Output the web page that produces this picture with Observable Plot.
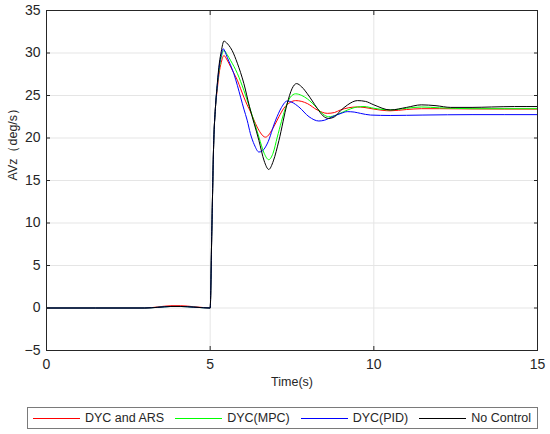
<!DOCTYPE html>
<html>
<head>
<meta charset="utf-8">
<script src="https://cdn.jsdelivr.net/npm/d3@7"></script>
<script src="https://cdn.jsdelivr.net/npm/@observablehq/plot@0.6"></script>
<style>
  body { margin: 0; background: #fff; font-family: "Liberation Sans", Arial, sans-serif; }
  #legend { position: relative; margin-left: 27px; margin-top: 7px; width: 511px; height: 22px; box-sizing: border-box;
    border: 1px solid #7a7a7a; display: flex; align-items: center; padding-left: 5px; font-size: 12.5px; color: #262626; }
  .sw { width: 47px; height: 0; border-top: 1px solid; margin-right: 5px; }
  .lbl { margin-right: 11px; white-space: nowrap; }
</style>
</head>
<body>
<div id="chart"></div>
<div id="legend"></div>
<script>
const seriesNames = ["DYC and ARS", "DYC(MPC)", "DYC(PID)", "No Control"];
const seriesColors = ["#ff0000", "#00ff00", "#0000ff", "#000000"];
const xTicks = [0, 5, 10, 15];
const yTicks = [-5, 0, 5, 10, 15, 20, 25, 30, 35];

// pre-step portion (small bump near t = 4, then the step at t = 5)
const tPre = [0, 3.0, 3.4, 3.8, 4.1, 4.5, 4.8, 5.0, 5.05, 5.11, 5.16];
const vPreRed = [0, 0, 0.12, 0.27, 0.27, 0.15, 0.05, 0, 9, 19.7, 23.5];
const vPre = [0, 0, 0.08, 0.18, 0.18, 0.1, 0.03, 0, 9, 19.7, 23.5];

const tRed = [5.22, 5.27, 5.34, 5.42, 5.5, 5.57, 5.7, 5.83, 5.93, 6.03, 6.13, 6.23, 6.35, 6.49, 6.69, 6.94, 7.1, 7.25, 7.45, 7.61, 7.8, 7.97, 8.27, 8.58, 8.8, 8.98, 9.49, 9.7, 10.0, 10.5, 11.0, 11.45, 12.0, 13.0, 15.0];
const vRed = [25.8, 27.5, 28.9, 29.7, 29.3, 28.8, 27.8, 26.8, 25.8, 24.8, 23.9, 23.1, 22.0, 20.9, 20.1, 21.3, 22.5, 23.5, 24.2, 24.4, 24.3, 24.05, 23.3, 22.9, 23.0, 23.3, 23.65, 23.6, 23.4, 23.2, 23.35, 23.45, 23.45, 23.42, 23.4];

const tGreen = [5.22, 5.28, 5.34, 5.42, 5.52, 5.62, 5.83, 6.03, 6.23, 6.49, 6.65, 6.79, 6.92, 7.05, 7.3, 7.45, 7.61, 7.8, 7.97, 8.27, 8.45, 8.62, 8.85, 9.08, 9.5, 9.7, 10.0, 10.5, 11.0, 11.45, 12.0, 13.0, 15.0];
const vGreen = [26.2, 28.2, 29.5, 30.3, 29.8, 29.15, 27.6, 25.6, 23.3, 20.1, 18.2, 17.45, 18.2, 20.1, 23.5, 24.8, 25.2, 25.0, 24.6, 23.5, 22.8, 22.5, 22.7, 23.1, 23.65, 23.7, 23.5, 23.3, 23.5, 23.65, 23.55, 23.45, 23.45];

const tBlue = [5.22, 5.28, 5.34, 5.40, 5.46, 5.52, 5.62, 5.72, 5.83, 5.93, 6.03, 6.13, 6.23, 6.35, 6.49, 6.6, 6.74, 7.0, 7.18, 7.35, 7.5, 7.71, 8.02, 8.32, 8.5, 8.73, 9.0, 9.19, 9.4, 9.59, 9.9, 10.5, 11.5, 13.0, 15.0];
const vBlue = [26.3, 28.5, 29.8, 30.5, 30.1, 29.5, 28.6, 27.6, 26.2, 24.8, 23.4, 22.1, 20.5, 19.2, 18.35, 18.5, 19.3, 22.1, 23.6, 24.35, 24.2, 23.65, 22.5, 22.0, 22.1, 22.5, 22.9, 23.1, 23.05, 22.9, 22.7, 22.65, 22.7, 22.75, 22.75];

const tBlack = [5.22, 5.28, 5.34, 5.42, 5.5, 5.57, 5.67, 5.83, 6.03, 6.2, 6.49, 6.65, 6.79, 6.93, 7.1, 7.35, 7.5, 7.64, 7.8, 7.97, 8.27, 8.45, 8.62, 8.8, 8.98, 9.2, 9.5, 9.75, 10.0, 10.5, 11.0, 11.45, 11.9, 12.35, 13.0, 13.6, 14.3, 15.0];
const vBlack = [26.5, 28.8, 30.2, 31.4, 31.2, 30.9, 30.3, 28.8, 26.4, 23.7, 19.7, 17.3, 16.3, 17.3, 19.7, 24.0, 25.8, 26.4, 26.0, 25.2, 23.5, 22.6, 22.3, 22.5, 23.2, 23.9, 24.4, 24.3, 23.9, 23.3, 23.6, 23.9, 23.8, 23.6, 23.6, 23.65, 23.7, 23.7];

const seriesPre = [vPreRed, vPre, vPre, vPre];
const seriesT = [tRed, tGreen, tBlue, tBlack];
const seriesV = [vRed, vGreen, vBlue, vBlack];

const rows = [];
seriesNames.forEach((name, i) => {
  tPre.forEach((t, j) => rows.push({series: name, t, v: seriesPre[i][j]}));
  seriesT[i].forEach((t, j) => rows.push({series: name, t, v: seriesV[i][j]}));
});

const font = "'Liberation Sans', Arial, sans-serif";

const chart = Plot.plot({
  width: 550,
  height: 400,
  marginLeft: 46,
  marginRight: 13,
  marginTop: 10,
  marginBottom: 50,
  style: {fontFamily: font, color: "#262626", background: "#fff"},
  x: {domain: [0, 15], axis: null},
  y: {domain: [-5, 35], axis: null},
  color: {domain: seriesNames, range: seriesColors},
  marks: [
    Plot.gridX(xTicks, {stroke: "#e5e5e5", strokeOpacity: 1}),
    Plot.gridY(yTicks, {stroke: "#e5e5e5", strokeOpacity: 1}),
    Plot.lineY(rows, {x: "t", y: "v", z: "series", stroke: "series", strokeWidth: 1, curve: "monotone-x"}),
    Plot.frame({stroke: "#262626", strokeWidth: 1}),
    Plot.axisX(xTicks, {anchor: "bottom", tickSize: 0, tickPadding: 9, fontSize: 14, label: null}),
    Plot.axisY(yTicks, {anchor: "left", tickSize: 0, tickPadding: 6, fontSize: 14, label: null}),
    Plot.axisX(xTicks, {anchor: "bottom", tickSize: -4, tickFormat: () => "", label: null, stroke: "#262626"}),
    Plot.axisX(xTicks, {anchor: "top", tickSize: -4, tickFormat: () => "", label: null, stroke: "#262626"}),
    Plot.axisY(yTicks, {anchor: "left", tickSize: -4, tickFormat: () => "", label: null, stroke: "#262626"}),
    Plot.axisY(yTicks, {anchor: "right", tickSize: -4, tickFormat: () => "", label: null, stroke: "#262626"}),
    Plot.text(["Time(s)"], {frameAnchor: "bottom", dy: 35, fontSize: 12.5, fill: "#262626"}),
    Plot.text(["AVz（deg/s）"], {frameAnchor: "left", dx: -34, rotate: -90, fontSize: 12.5, fill: "#262626"})
  ]
});
document.getElementById("chart").append(chart);

const legend = document.getElementById("legend");
seriesNames.forEach((name, i) => {
  const sw = document.createElement("span");
  sw.className = "sw";
  sw.style.borderTopColor = seriesColors[i];
  const lb = document.createElement("span");
  lb.className = "lbl";
  lb.textContent = name;
  if (i === seriesNames.length - 1) lb.style.marginRight = "0";
  legend.append(sw, lb);
});
</script>
</body>
</html>
